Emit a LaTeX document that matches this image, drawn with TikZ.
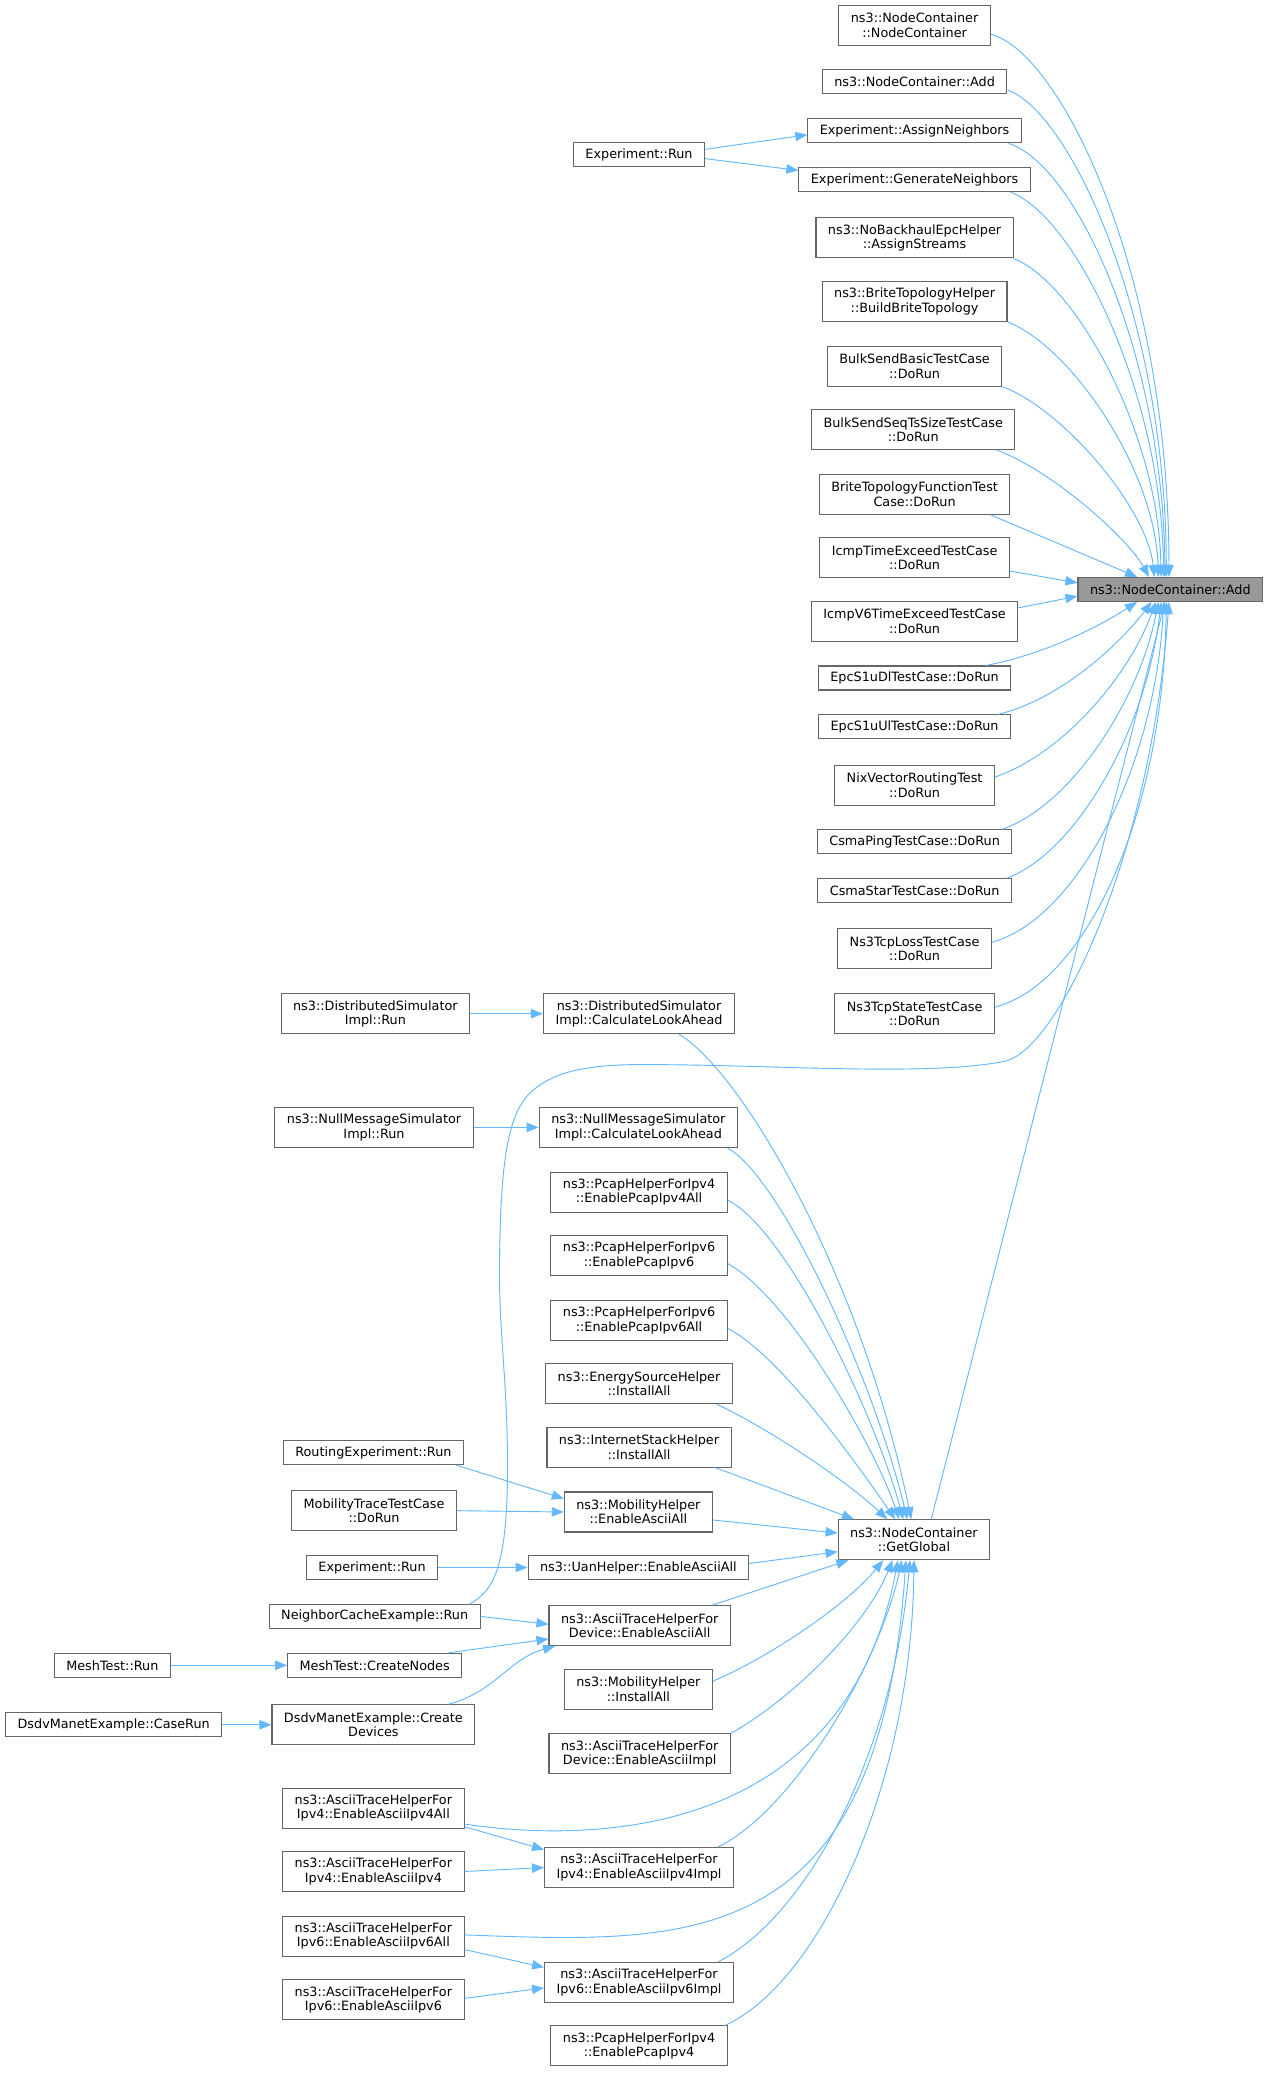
\documentclass[tikz,border=0pt]{standalone}
\usepackage{fontspec}
\setmainfont{DejaVu Sans}
\definecolor{cgEdge}{HTML}{63B8FF}
\definecolor{cgBorder}{HTML}{666666}
\definecolor{cgSelected}{HTML}{999999}
\usetikzlibrary{arrows.meta}

\begin{document}
\begin{tikzpicture}[x=0.9914pt, y=-0.9914pt,
  fn/.style={draw=cgBorder, line width=0.8pt, fill=white, align=center,
    font=\fontsize{9.6}{10.8}\selectfont, inner xsep=9pt, inner ysep=1pt, minimum height=18},
  two/.style={minimum height=30},
  sel/.style={fill=cgSelected},
  call/.style={draw=cgEdge, line width=0.7pt, -{Triangle[length=9pt,width=7pt]}}]
  \fill[white] (0,0) rectangle (960,1570);

  % callers of NodeContainer::Add
  \node[fn,two] (ncCtor) at (692,19) {ns3::NodeContainer\\::NodeContainer};
  \node[fn] (ncAdd2) at (692,62) {ns3::NodeContainer::Add};
  \node[fn] (expAssign) at (692,99) {Experiment::AssignNeighbors};
  \node[fn] (expGenerate) at (692,136) {Experiment::GenerateNeighbors};
  \node[fn,two] (noBackhaul) at (692,180) {ns3::NoBackhaulEpcHelper\\::AssignStreams};
  \node[fn,two] (briteHelper) at (692,228) {ns3::BriteTopologyHelper\\::BuildBriteTopology};
  \node[fn,two] (bulkBasic) at (692,277) {BulkSendBasicTestCase\\::DoRun};
  \node[fn,two] (bulkSeq) at (691,325) {BulkSendSeqTsSizeTestCase\\::DoRun};
  \node[fn,two] (briteFunc) at (692,374) {BriteTopologyFunctionTest\\Case::DoRun};
  \node[fn,two] (icmpV4) at (692,422) {IcmpTimeExceedTestCase\\::DoRun};
  \node[fn,two] (icmpV6) at (692,470) {IcmpV6TimeExceedTestCase\\::DoRun};
  \node[fn] (epcDl) at (692,513) {EpcS1uDlTestCase::DoRun};
  \node[fn] (epcUl) at (692,550) {EpcS1uUlTestCase::DoRun};
  \node[fn,two] (nixRouting) at (692,594) {NixVectorRoutingTest\\::DoRun};
  \node[fn] (csmaPing) at (692,637) {CsmaPingTestCase::DoRun};
  \node[fn] (csmaStar) at (692,674) {CsmaStarTestCase::DoRun};
  \node[fn,two] (tcpLoss) at (692,718) {Ns3TcpLossTestCase\\::DoRun};
  \node[fn,two] (tcpState) at (692,767) {Ns3TcpStateTestCase\\::DoRun};
  \node[fn,sel] (add) at (885.5,446) {ns3::NodeContainer::Add};
  \node[fn] (expRunA) at (483.5,117) {Experiment::Run};

  % callers of NodeContainer::GetGlobal
  \node[fn,two] (distLook) at (483.5,767) {ns3::DistributedSimulator\\Impl::CalculateLookAhead};
  \node[fn,two] (nullLook) at (483,853) {ns3::NullMessageSimulator\\Impl::CalculateLookAhead};
  \node[fn,two] (pcap4All) at (483.5,902) {ns3::PcapHelperForIpv4\\::EnablePcapIpv4All};
  \node[fn,two] (pcap6) at (483.5,950) {ns3::PcapHelperForIpv6\\::EnablePcapIpv6};
  \node[fn,two] (pcap6All) at (483.5,999) {ns3::PcapHelperForIpv6\\::EnablePcapIpv6All};
  \node[fn,two] (energyAll) at (483.5,1047) {ns3::EnergySourceHelper\\::InstallAll};
  \node[fn,two] (inetAll) at (483.5,1095) {ns3::InternetStackHelper\\::InstallAll};
  \node[fn,two] (mobAscii) at (483,1144) {ns3::MobilityHelper\\::EnableAsciiAll};
  \node[fn] (uanAscii) at (483,1186) {ns3::UanHelper::EnableAsciiAll};
  \node[fn,two] (devAscii) at (484,1230) {ns3::AsciiTraceHelperFor\\Device::EnableAsciiAll};
  \node[fn,two] (mobInstall) at (483,1278) {ns3::MobilityHelper\\::InstallAll};
  \node[fn,two] (devImpl) at (484,1327) {ns3::AsciiTraceHelperFor\\Device::EnableAsciiImpl};
  \node[fn,two] (ip4Impl) at (483.5,1413) {ns3::AsciiTraceHelperFor\\Ipv4::EnableAsciiIpv4Impl};
  \node[fn,two] (ip6Impl) at (483.5,1500) {ns3::AsciiTraceHelperFor\\Ipv6::EnableAsciiIpv6Impl};
  \node[fn,two] (pcap4) at (483.5,1548) {ns3::PcapHelperForIpv4\\::EnablePcapIpv4};
  \node[fn,two] (getGlobal) at (691.5,1165) {ns3::NodeContainer\\::GetGlobal};

  % second level callers
  \node[fn,two] (distRun) at (284,767) {ns3::DistributedSimulator\\Impl::Run};
  \node[fn,two] (nullRun) at (283,853) {ns3::NullMessageSimulator\\Impl::Run};
  \node[fn] (routingRun) at (282.5,1099) {RoutingExperiment::Run};
  \node[fn,two] (mobTrace) at (283,1143) {MobilityTraceTestCase\\::DoRun};
  \node[fn] (expRunB) at (281.5,1186) {Experiment::Run};
  \node[fn] (neighborRun) at (283.5,1223) {NeighborCacheExample::Run};
  \node[fn] (meshCreate) at (283.5,1260) {MeshTest::CreateNodes};
  \node[fn,two] (dsdvCreate) at (282.5,1305) {DsdvManetExample::Create\\Devices};
  \node[fn,two] (ip4All) at (282.5,1368) {ns3::AsciiTraceHelperFor\\Ipv4::EnableAsciiIpv4All};
  \node[fn,two] (ip4) at (282.5,1416) {ns3::AsciiTraceHelperFor\\Ipv4::EnableAsciiIpv4};
  \node[fn,two] (ip6All) at (282.5,1465) {ns3::AsciiTraceHelperFor\\Ipv6::EnableAsciiIpv6All};
  \node[fn,two] (ip6) at (282.5,1513) {ns3::AsciiTraceHelperFor\\Ipv6::EnableAsciiIpv6};
  \node[fn] (meshRun) at (85,1260) {MeshTest::Run};
  \node[fn] (dsdvCase) at (86,1305) {DsdvManetExample::CaseRun};

  % edges into Add
  \draw[call] ([yshift=-7pt]ncCtor.east) .. controls (800,38) and (884,200) .. ([xshift=-1pt]add.north);
  \draw[call] ([yshift=-6pt]ncAdd2.east) .. controls (810,85) and (882,240) .. ([xshift=-3pt]add.north);
  \draw[call] ([xshift=-10pt]expAssign.south east) .. controls (815,125) and (880,270) .. ([xshift=-4pt]add.north);
  \draw[call] ([xshift=-15pt]expGenerate.south east) .. controls (815,165) and (879,300) .. ([xshift=-5pt]add.north);
  \draw[call] (noBackhaul.south east) .. controls (815,215) and (877,330) .. ([xshift=-7pt]add.north);
  \draw[call] (briteHelper.south east) .. controls (810,262) and (874,355) .. ([xshift=-9pt]add.north);
  \draw[call] (bulkBasic.south east) .. controls (805,310) and (868,385) .. ([xshift=-12pt]add.north);
  \draw[call] ([xshift=-14pt]bulkSeq.south east) .. controls (800,358) and (855,410) .. ([xshift=-16pt]add.north);
  \draw[call] ([xshift=-15pt]briteFunc.south east) -- ([xshift=-25pt]add.north);
  \draw[call] ([yshift=-10pt]icmpV4.east) -- ([yshift=5pt]add.west);
  \draw[call] ([yshift=10pt]icmpV6.east) -- ([yshift=-5pt]add.west);
  \draw[call] ([xshift=-19pt]epcDl.north east) .. controls (790,495) and (830,475) .. ([xshift=-25pt]add.south);
  \draw[call] ([xshift=-10pt]epcUl.north east) .. controls (800,530) and (845,490) .. ([xshift=-14pt]add.south);
  \draw[call] ([yshift=6pt]nixRouting.east) .. controls (805,570) and (855,510) .. ([xshift=-11pt]add.south);
  \draw[call] ([xshift=-8pt]csmaPing.north east) .. controls (810,610) and (862,530) .. ([xshift=-9pt]add.south);
  \draw[call] ([xshift=-4pt]csmaStar.north east) .. controls (815,645) and (868,550) .. ([xshift=-7pt]add.south);
  \draw[call] ([yshift=5pt]tcpLoss.east) .. controls (815,695) and (874,580) .. ([xshift=-5pt]add.south);
  \draw[call] ([yshift=5pt]tcpState.east) .. controls (820,745) and (880,620) .. ([xshift=-3pt]add.south);
  \draw[call] ([xshift=13pt]getGlobal.north) -- ([xshift=-4pt]add.south);
  \draw[call] ([xshift=-8pt]neighborRun.north east) .. controls (372,1204) and (384,1190) .. (384,1110)
    .. controls (384,1040) and (377,1010) .. (378,950) .. controls (379,880) and (384,845) .. (400,828)
    .. controls (416,812) and (440,806) .. (480,805.5) .. controls (580,805) and (700,815) .. (760,803)
    .. controls (800,795) and (870,650) .. ([xshift=-1pt]add.south);
  \draw[call] ([yshift=4pt]expRunA.east) -- ([yshift=-3pt]expAssign.west);
  \draw[call] ([yshift=-3pt]expRunA.east) -- ([yshift=7pt]expGenerate.west);

  % edges into GetGlobal
  \draw[call] ([xshift=30pt]distLook.south) .. controls (560,810) and (650,960) .. ([xshift=-2pt]getGlobal.north);
  \draw[call] ([xshift=-8pt]nullLook.south east) .. controls (590,890) and (660,1040) .. ([xshift=-5pt]getGlobal.north);
  \draw[call] ([yshift=-6pt]pcap4All.east) .. controls (595,930) and (662,1070) .. ([xshift=-8pt]getGlobal.north);
  \draw[call] ([yshift=-6pt]pcap6.east) .. controls (595,980) and (660,1090) .. ([xshift=-11pt]getGlobal.north);
  \draw[call] ([yshift=-6pt]pcap6All.east) .. controls (590,1025) and (650,1110) .. ([xshift=-14pt]getGlobal.north);
  \draw[call] ([xshift=-12pt]energyAll.south east) .. controls (580,1080) and (640,1120) .. ([xshift=-20pt]getGlobal.north);
  \draw[call] ([xshift=-12pt]inetAll.south east) -- ([xshift=-45pt]getGlobal.north);
  \draw[call] ([yshift=-6pt]mobAscii.east) -- ([yshift=5pt]getGlobal.west);
  \draw[call] ([yshift=3pt]uanAscii.east) -- ([yshift=-9pt]getGlobal.west);
  \draw[call] ([xshift=-14pt]devAscii.north east) -- ([xshift=8pt]getGlobal.south west);
  \draw[call] ([yshift=6pt]mobInstall.east) .. controls (580,1255) and (640,1215) .. ([xshift=-23pt]getGlobal.south);
  \draw[call] (devImpl.north east) .. controls (600,1285) and (655,1230) .. ([xshift=-16pt]getGlobal.south);
  \draw[call] ([yshift=-12pt]ip4All.east) .. controls (450,1395) and (640,1390) .. ([xshift=-12pt]getGlobal.south);
  \draw[call] ([xshift=-12pt]ip4Impl.north east) .. controls (600,1370) and (665,1260) .. ([xshift=-9pt]getGlobal.south);
  \draw[call] ([yshift=1pt]ip6All.east) .. controls (520,1470) and (665,1480) .. ([xshift=-6pt]getGlobal.south);
  \draw[call] ([xshift=-12pt]ip6Impl.north east) .. controls (610,1450) and (675,1330) .. ([xshift=-3pt]getGlobal.south);
  \draw[call] ([xshift=-2pt]pcap4.north east) .. controls (620,1500) and (690,1350) .. (getGlobal.south);

  % second level edges
  \draw[call] (distRun.east) -- (distLook.west);
  \draw[call] (nullRun.east) -- (nullLook.west);
  \draw[call] ([xshift=-6pt]routingRun.south east) -- ([yshift=10pt]mobAscii.west);
  \draw[call] (mobTrace.east) -- (mobAscii.west);
  \draw[call] (expRunB.east) -- (uanAscii.west);
  \draw[call] (neighborRun.east) -- ([yshift=1pt]devAscii.west);
  \draw[call] ([xshift=-10pt]meshCreate.north east) -- ([yshift=-10pt]devAscii.west);
  \draw[call] ([xshift=-20pt]dsdvCreate.north east) .. controls (375,1280) and (385,1255) .. ([xshift=5pt]devAscii.south west);
  \draw[call] (meshRun.east) -- (meshCreate.west);
  \draw[call] (dsdvCase.east) -- (dsdvCreate.west);
  \draw[call] ([yshift=-14pt]ip4All.east) -- ([yshift=-2pt]ip4Impl.north west);
  \draw[call] (ip4.east) -- (ip4Impl.west);
  \draw[call] ([yshift=-10pt]ip6All.east) -- ([yshift=-4pt]ip6Impl.north west);
  \draw[call] ([yshift=1pt]ip6.east) -- ([yshift=-4pt]ip6Impl.west);
\end{tikzpicture}
\end{document}
